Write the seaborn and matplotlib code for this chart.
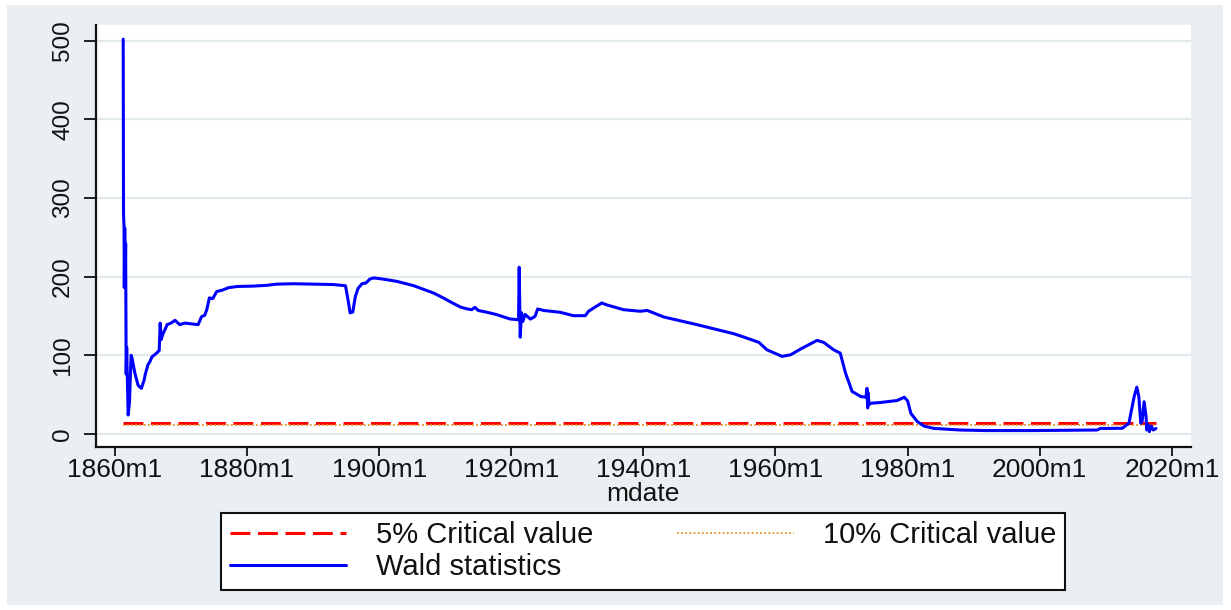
import matplotlib.pyplot as plt
import matplotlib.patches as patches
import numpy as np
import pandas as pd
import seaborn as sns

# =============================================================================
# Wald statistics (decimal year | value)
# =============================================================================
wald_dates = [1861.25, 1861.30, 1861.38, 1861.42, 1861.48, 1861.55, 1861.62, 1861.70,
              1861.78, 1862.00, 1862.20, 1862.45, 1862.60, 1863.00, 1863.50, 1864.00,
              1864.40, 1864.60, 1865.00, 1865.30, 1865.60, 1866.20, 1866.70, 1866.85,
              1867.00, 1867.30, 1867.60, 1867.90, 1868.50, 1869.10, 1869.80, 1870.60,
              1871.50, 1872.60, 1873.10, 1873.60, 1873.90, 1874.30, 1874.80, 1875.40,
              1876.30, 1877.20, 1878.50, 1881.00, 1883.00, 1884.50, 1887.00, 1890.00,
              1893.00, 1894.90, 1895.30, 1895.60, 1896.00, 1896.40, 1896.80, 1897.40,
              1898.00, 1898.60, 1899.20, 1900.50, 1902.70, 1905.20, 1907.00, 1908.20,
              1909.70, 1911.00, 1912.30, 1913.30, 1914.00, 1914.50, 1915.00, 1916.20,
              1917.80, 1919.80, 1920.90, 1921.10, 1921.20, 1921.35, 1921.55, 1921.75,
              1922.10, 1922.90, 1923.60, 1924.00, 1924.90, 1926.00, 1927.40, 1929.40,
              1931.20, 1931.70, 1932.70, 1933.70, 1934.50, 1937.00, 1939.50, 1940.60,
              1943.10, 1948.10, 1951.20, 1953.70, 1955.20, 1957.50, 1958.70, 1961.00,
              1962.30, 1963.80, 1966.30, 1967.30, 1968.80, 1969.80, 1970.60, 1971.60,
              1972.90, 1973.70, 1973.85, 1973.95, 1974.05, 1974.15, 1974.40, 1975.90,
              1978.40, 1979.50, 1980.00, 1980.50, 1981.50, 1982.50, 1984.00, 1988.00,
              1991.60, 1999.10, 2008.70, 2009.20, 2012.50, 2013.50, 2014.30, 2014.70,
              2015.00, 2015.30, 2015.50, 2015.80, 2016.10, 2016.20, 2016.40, 2016.60,
              2016.90, 2017.20, 2017.60]
wald_values = [502, 280, 262, 186, 262, 190, 242, 76,
               110, 24, 40, 100, 96, 78, 62, 58,
               68, 76, 88, 92, 98, 102, 106, 141,
               120, 128, 133, 139, 141, 144.5, 139, 141,
               140, 139, 149, 151, 158, 173, 172, 181,
               183, 186, 187.5, 188, 189, 190.5, 191, 190.5,
               190, 188.5, 170, 154, 155, 175, 185, 191,
               192, 197, 198.4, 197, 194, 188.6, 183, 179.3,
               173, 167, 161.4, 159, 158, 161, 157, 155,
               151.7, 146.2, 145.4, 145, 212, 123, 154, 143,
               152, 146, 149.5, 159, 157, 156, 154.7, 150.4,
               150.4, 156, 161.4, 166.5, 164, 158, 156, 157,
               148.7, 139, 132.5, 127.4, 123.2, 116.4, 107, 98.6,
               100.7, 108, 119, 116.4, 107, 102.8, 77.4, 54,
               47.6, 46.7, 58, 33, 52, 37, 39, 40,
               42.5, 46.7, 42, 26, 15.5, 10, 7, 5,
               4.3, 4.3, 5, 7, 7.2, 13.6, 47.6, 59.5,
               47.6, 13.6, 15.7, 41, 22, 5, 12, 3,
               10, 5, 7]

# critical values (constant over the sample)
crit_5 = 13.6
crit_10 = 11.5

xticks = [1860, 1880, 1900, 1920, 1940, 1960, 1980, 2000, 2020]
xtick_labels = ['1860m1', '1880m1', '1900m1', '1920m1', '1940m1',
                '1960m1', '1980m1', '2000m1', '2020m1']
yticks = [0, 100, 200, 300, 400, 500]

Data = pd.DataFrame({'mdate': wald_dates, 'wald': wald_values})
Data['cv5'] = crit_5
Data['cv10'] = crit_10

# =============================================================================
# Plot
# =============================================================================
sns.set_style('white')
plt.rcParams['font.family'] = ['Liberation Sans', 'DejaVu Sans']
plt.rcParams['text.color'] = '#111111'

fig = plt.figure(figsize=(12.31, 6.10), dpi=100, facecolor='white')
# Stata-like graph region, kept behind the axes
fig.patches.append(patches.Rectangle((7/1231, 5/610), 1216/1231, 600/610,
                                     transform=fig.transFigure, facecolor='#e9eff2',
                                     edgecolor='none', zorder=-10))
ax = fig.add_axes([0.0777, 0.2667, 0.8898, 0.6923])
ax.set_facecolor('white')

sns.lineplot(data=Data, x='mdate', y='cv5', estimator=None, sort=False, ax=ax,
             color='#ff0000', lw=2.2, linestyle=(0, (6.5, 2.5)), label='5% Critical value')
sns.lineplot(data=Data, x='mdate', y='cv10', estimator=None, sort=False, ax=ax,
             color='#e5932a', lw=1.3, linestyle=(0, (1, 1.3)), label='10% Critical value')
sns.lineplot(data=Data, x='mdate', y='wald', estimator=None, sort=False, ax=ax,
             color='#0000ff', lw=2.2, label='Wald statistics')

ax.set_xlim(1857.08, 2022.9)
ax.set_ylim(-17, 520)
ax.set_xticks(xticks)
ax.set_xticklabels(xtick_labels)
ax.set_yticks(yticks)
ax.yaxis.grid(True, color='#e3eaee', linewidth=1.6)
ax.xaxis.grid(False)
ax.set_axisbelow(True)

for s in ['top', 'right']:
    ax.spines[s].set_visible(False)
for s in ['left', 'bottom']:
    ax.spines[s].set_color('#111111')
    ax.spines[s].set_linewidth(1.6)

ax.tick_params(axis='x', length=6.5, width=1.3, labelsize=19, pad=1,
               colors='#111111', bottom=True)
ax.tick_params(axis='y', length=8.5, width=1.3, labelsize=17.5, pad=7,
               colors='#111111', labelrotation=90, left=True)
for lab in ax.get_yticklabels():
    lab.set_va('center')

ax.set_ylabel('')
ax.set_xlabel('mdate', fontsize=19, color='#111111')
ax.xaxis.set_label_coords(0.5, -0.082)

handles, labels = ax.get_legend_handles_labels()
ax.get_legend().remove()
order = [0, 2, 1]
leg = fig.legend([handles[i] for i in order], [labels[i] for i in order],
                 ncol=2, loc='center', mode='expand',
                 bbox_to_anchor=(221/1231, 1-586/610, 844/1231, 70/610),
                 fontsize=21, frameon=True, fancybox=False, edgecolor='#111111',
                 framealpha=1, handlelength=4.0, handletextpad=1.0,
                 borderpad=0.3, labelspacing=0.12, borderaxespad=0,
                 columnspacing=1.8)
leg.get_frame().set_linewidth(1.5)
for t in leg.get_texts():
    t.set_color('#111111')

plt.savefig('out.png', dpi=100, facecolor=fig.get_facecolor())
